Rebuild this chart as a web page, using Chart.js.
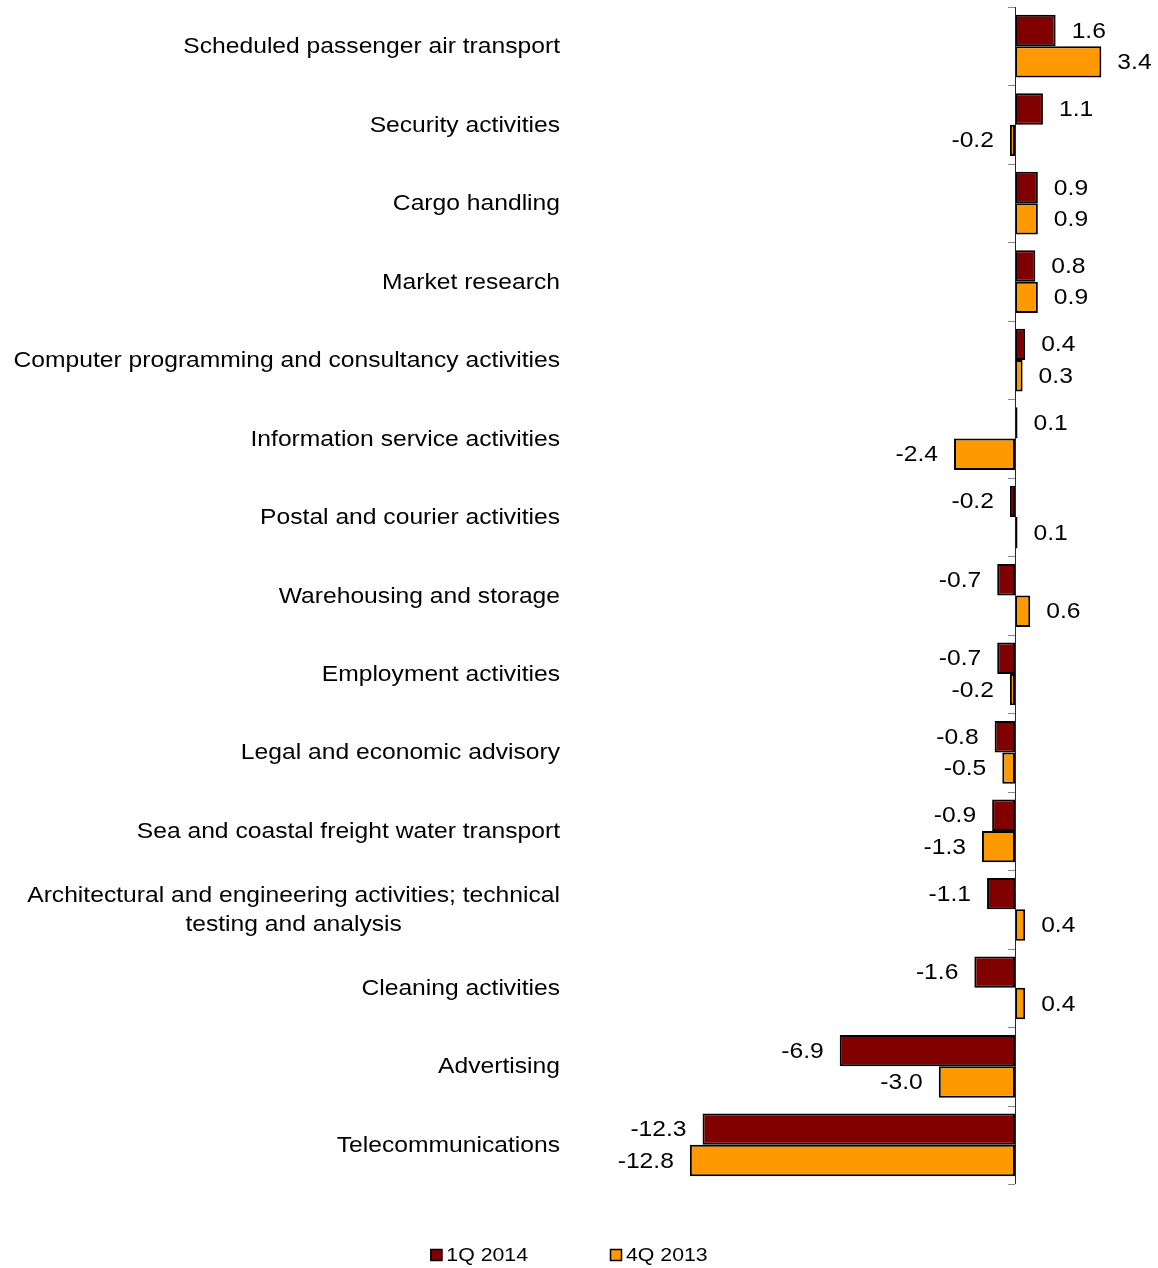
<!DOCTYPE html>
<html>
<head>
<meta charset="utf-8">
<script src="https://cdn.jsdelivr.net/npm/chart.js@4/dist/chart.umd.min.js"></script>
<style>
  html, body { margin: 0; padding: 0; background: #fff; }
  #wrap { width: 1158px; height: 1268px; }
</style>
</head>
<body>
<div id="wrap"><canvas id="chart" width="1158" height="1268"></canvas></div>
<script>
const categories = [
  'Scheduled passenger air transport',
  'Security activities',
  'Cargo handling',
  'Market research',
  'Computer programming and consultancy activities',
  'Information service activities',
  'Postal and courier activities',
  'Warehousing and storage',
  'Employment activities',
  'Legal and economic advisory',
  'Sea and coastal freight water transport',
  ['Architectural and engineering activities; technical', 'testing and analysis'],
  'Cleaning activities',
  'Advertising',
  'Telecommunications'
];
const seriesNames = ['1Q 2014', '4Q 2013'];
const q1_2014 = [1.6, 1.1, 0.9, 0.8, 0.4, 0.1, -0.2, -0.7, -0.7, -0.8, -0.9, -1.1, -1.6, -6.9, -12.3];
const q4_2013 = [3.4, -0.2, 0.9, 0.9, 0.3, -2.4, 0.1, 0.6, -0.2, -0.5, -1.3, 0.4, 0.4, -3.0, -12.8];

const SX = 1.12; // text in the reference is slightly wide
const FONT = '"Liberation Sans", Arial, sans-serif';

function wideText(ctx, text, px, py, align) {
  const w = ctx.measureText(text).width * SX;
  const left = align === 'right' ? px - w : align === 'center' ? px - w / 2 : px;
  ctx.save();
  ctx.translate(left, py + 1);
  ctx.scale(SX, 1);
  ctx.textAlign = 'left';
  ctx.textBaseline = 'middle';
  ctx.fillText(text, 0, 0);
  ctx.restore();
}

const labelPlugin = {
  id: 'labelPlugin',
  afterDatasetsDraw(chart) {
    const { ctx, chartArea, scales: { x, y } } = chart;
    const zero = x.getPixelForValue(0);

    // zero axis with tick marks between categories
    ctx.save();
    ctx.strokeStyle = '#222';
    ctx.lineWidth = 1;
    ctx.beginPath();
    ctx.moveTo(zero + 0.5, chartArea.top);
    ctx.lineTo(zero + 0.5, chartArea.bottom);
    ctx.stroke();
    ctx.strokeStyle = '#888';
    const step = (chartArea.bottom - chartArea.top) / categories.length;
    for (let i = 0; i <= categories.length; i++) {
      const ty = Math.round(chartArea.top + i * step) + 0.5;
      ctx.beginPath();
      ctx.moveTo(zero - 7, ty);
      ctx.lineTo(zero, ty);
      ctx.stroke();
    }
    ctx.restore();

    // category labels
    ctx.save();
    ctx.fillStyle = '#000';
    ctx.font = '22px ' + FONT;
    categories.forEach((cat, i) => {
      const lines = Array.isArray(cat) ? cat : [cat];
      const cy = y.getPixelForValue(i);
      const maxW = Math.max(...lines.map(l => ctx.measureText(l).width * SX));
      const cx = 560 - maxW / 2;
      lines.forEach((l, k) => {
        const ly = cy + (k - (lines.length - 1) / 2) * 29;
        wideText(ctx, l, cx, ly, 'center');
      });
    });

    // value labels
    chart.data.datasets.forEach((ds, di) => {
      const meta = chart.getDatasetMeta(di);
      meta.data.forEach((bar, i) => {
        const v = ds.data[i];
        const txt = v.toFixed(1);
        const px = x.getPixelForValue(v);
        if (v >= 0) wideText(ctx, txt, px + 16, bar.y, 'left');
        else wideText(ctx, txt, px - 16, bar.y, 'right');
      });
    });

    // legend
    ctx.font = '19px ' + FONT;
    const ly = 1255;
    const gap = 82;
    const widths = chart.data.datasets.map(ds => 16 + ctx.measureText(ds.label).width * SX);
    const total = widths.reduce((a, b) => a + b, 0) + gap * (widths.length - 1);
    let lx = 569 - total / 2;
    chart.data.datasets.forEach((ds, di) => {
      ctx.fillStyle = ds.backgroundColor;
      ctx.fillRect(lx, ly - 6, 12, 12);
      ctx.strokeStyle = '#000';
      ctx.lineWidth = 1.5;
      ctx.strokeRect(lx + 0.5, ly - 5.5, 11, 11);
      ctx.fillStyle = '#000';
      wideText(ctx, ds.label, lx + 16, ly, 'left');
      lx += widths[di] + gap;
    });
    ctx.restore();
  }
};

new Chart(document.getElementById('chart'), {
  type: 'bar',
  data: {
    labels: categories,
    datasets: [
      {
        label: seriesNames[0],
        data: q1_2014,
        backgroundColor: '#800000',
        borderColor: '#000',
        borderWidth: 2,
        borderSkipped: false,
        categoryPercentage: 0.8,
        barPercentage: 1.0
      },
      {
        label: seriesNames[1],
        data: q4_2013,
        backgroundColor: '#FF9900',
        borderColor: '#000',
        borderWidth: 2,
        borderSkipped: false,
        categoryPercentage: 0.8,
        barPercentage: 1.0
      }
    ]
  },
  options: {
    indexAxis: 'y',
    responsive: false,
    animation: false,
    layout: { padding: { left: 572, right: 0, top: 7, bottom: 84 } },
    scales: {
      x: { display: false, min: -17.44, max: 5.63, grid: { display: false } },
      y: { display: false, grid: { display: false } }
    },
    plugins: {
      legend: { display: false },
      tooltip: { enabled: false }
    }
  },
  plugins: [labelPlugin]
});
</script>
</body>
</html>
